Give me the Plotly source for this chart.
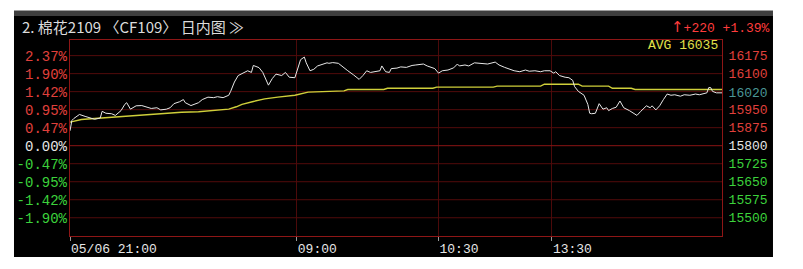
import plotly.graph_objects as go

# ---------------- data ----------------
PREV_SETTLE = 15800
LAST_PRICE = 16020
AVG_PRICE = 16035

PRICE_TIMES = [
    "21:00", "21:01", "21:02", "21:05", "21:08", "21:10", "21:13", "21:16", "21:17", "21:19",
    "21:22", "21:24", "21:27", "21:29", "21:30", "21:32", "21:35", "21:38", "21:40", "21:43",
    "21:46", "21:48", "21:51", "21:53", "21:55", "21:58", "22:00", "22:01", "22:04", "22:07",
    "22:08", "22:10", "22:13", "22:16", "22:18", "22:21", "22:24", "22:25", "22:27", "22:29",
    "22:32", "22:34", "22:36", "22:37", "22:40", "22:42", "22:45", "22:47", "22:49", "22:52",
    "22:54", "22:56", "22:59", "09:00", "09:01", "09:02", "09:04", "09:05", "09:07", "09:09",
    "09:11", "09:13", "09:16", "09:17", "09:19", "09:22", "09:24", "09:27", "09:30", "09:33",
    "09:35", "09:37", "09:39", "09:42", "09:44", "09:45", "09:47", "09:49", "09:50", "09:53",
    "09:55", "09:58", "10:01", "10:03", "10:07", "10:09", "10:13", "10:30", "10:32", "10:35",
    "10:38", "10:40", "10:41", "10:44", "10:46", "10:49", "10:53", "10:56", "11:00", "11:02",
    "11:05", "11:08", "11:10", "11:13", "11:16", "11:18", "11:21", "11:24", "11:26", "11:29",
    "13:31", "13:32", "13:34", "13:37", "13:39", "13:41", "13:42", "13:44", "13:45", "13:47",
    "13:49", "13:50", "13:51", "13:53", "13:55", "13:57", "13:59", "14:00", "14:02", "14:04",
    "14:06", "14:08", "14:11", "14:14", "14:15", "14:17", "14:20", "14:22", "14:23", "14:25",
    "14:27", "14:29", "14:31", "14:33", "14:35", "14:38", "14:40", "14:43", "14:46", "14:48",
    "14:51", "14:52", "14:53", "14:54", "14:55", "14:57", "15:00",
]
PRICE_VALUES = [
    15862, 15905, 15913, 15930, 15922, 15917, 15910, 15915, 15943, 15935,
    15933, 15926, 15946, 15972, 15979, 15952, 15966, 15967, 15962, 15955,
    15958, 15949, 15952, 15958, 15975, 15983, 15992, 15979, 15967, 15975,
    15979, 15992, 16002, 16000, 16004, 16000, 16010, 16026, 16065, 16092,
    16105, 16112, 16105, 16134, 16125, 16105, 16052, 16079, 16098, 16092,
    16105, 16085, 16083, 16105, 16132, 16158, 16169, 16145, 16112, 16118,
    16132, 16138, 16145, 16143, 16146, 16143, 16132, 16112, 16095, 16076,
    16092, 16112, 16105, 16108, 16112, 16132, 16108, 16105, 16121, 16123,
    16128, 16126, 16134, 16136, 16140, 16132, 16121, 16102, 16112, 16115,
    16124, 16140, 16132, 16136, 16132, 16145, 16143, 16140, 16148, 16136,
    16126, 16118, 16112, 16108, 16115, 16110, 16112, 16108, 16112, 16112,
    16102, 16108, 16092, 16085, 16083, 16072, 16046, 16026, 16020, 16010,
    15972, 15935, 15933, 15935, 15975, 15952, 15958, 15946, 15955, 15960,
    15986, 15958, 15946, 15933, 15926, 15943, 15966, 15958, 15966, 15949,
    15966, 15992, 16015, 16010, 16012, 16006, 16012, 16010, 16015, 16012,
    16018, 16020, 16042, 16042, 16026, 16020, 16020,
]

AVG_TIMES = [
    "21:00", "21:06", "21:13", "21:24", "21:32", "21:47", "21:59", "22:08", "22:24", "22:28",
    "22:31", "22:37", "22:43", "22:50", "22:59", "09:06", "09:18", "09:25", "09:27", "09:46",
    "09:48", "10:12", "10:14", "10:59", "11:01", "11:24", "11:26", "13:44", "13:46", "14:00",
    "14:02", "14:12", "14:14", "15:00",
]
AVG_VALUES = [
    15898, 15909, 15913, 15919, 15926, 15933, 15939, 15941, 15952, 15962,
    15972, 15984, 15995, 16002, 16010, 16023, 16028, 16028, 16034, 16034,
    16039, 16039, 16044, 16044, 16048, 16048, 16056, 16056, 16048, 16048,
    16039, 16039, 16034, 16034,
]

PCT_LEVELS = [16175, 16100, 16025, 15950, 15875, 15800, 15725, 15650, 15575, 15500]
PCT_LABELS = ["2.37%", "1.90%", "1.42%", "0.95%", "0.47%", "0.00%",
              "-0.47%", "-0.95%", "-1.42%", "-1.90%"]
PRICE_TICKS = [16175, 16100, 16020, 15950, 15875, 15800, 15725, 15650, 15575, 15500]

X_TICK_TIMES = ["21:00", "09:00", "10:30", "13:30"]
X_TICK_LABELS = ["05/06 21:00", "09:00", "10:30", "13:30"]

TITLE = "2. 棉花2109 〈CF109〉 日内图 ≫"

# ---------------- helpers ----------------
def session_index(t):
    h, m = map(int, t.split(":"))
    mins = h * 60 + m
    if mins >= 21 * 60:
        return mins - 21 * 60
    if 9 * 60 <= mins <= 10 * 60 + 15:
        return 120 + mins - 9 * 60
    if 10 * 60 + 30 <= mins <= 11 * 60 + 30:
        return 195 + mins - (10 * 60 + 30)
    return 255 + mins - (13 * 60 + 30)

RED = "#e0403c"
GREEN = "#3cd23c"
WHITE = "#e6e6e6"
TEAL = "#4a9696"
GRID = "#4c0a0a"
BORDER = "#8e1616"

def col_for(v, ref):
    if v > ref:
        return RED
    if v < ref:
        return GREEN
    return WHITE

Y_LO, Y_HI = 15424, 16240
X_END = session_index("15:00")
pct = lambda p: (p / PREV_SETTLE - 1) * 100

fig = go.Figure()

# horizontal grid (one trace for the ordinary levels, one for the previous settle)
gx, gy = [], []
for p in PCT_LEVELS:
    if p != PREV_SETTLE:
        gx += [0, X_END, None]
        gy += [p, p, None]
fig.add_trace(go.Scatter(x=gx, y=gy, mode="lines", line=dict(color="#520b0b", width=1),
                         hoverinfo="skip", yaxis="y"))
fig.add_trace(go.Scatter(x=[0, X_END], y=[PREV_SETTLE, PREV_SETTLE], mode="lines",
                         line=dict(color="#8a1414", width=1), hoverinfo="skip", yaxis="y"))

fig.add_trace(go.Scatter(
    x=[session_index(t) for t in AVG_TIMES], y=AVG_VALUES, mode="lines",
    line=dict(color="#cfcf3a", width=1.4), yaxis="y", hoverinfo="skip"))
fig.add_trace(go.Scatter(
    x=[session_index(t) for t in PRICE_TIMES], y=PRICE_VALUES, mode="lines",
    line=dict(color="#e8e8e8", width=1), yaxis="y", hoverinfo="skip"))
# invisible anchor trace for the percent axis
fig.add_trace(go.Scatter(x=[0], y=[0], mode="markers", marker=dict(opacity=0),
                         yaxis="y2", hoverinfo="skip"))

left_text = [f'<span style="color:{col_for(p, PREV_SETTLE)}">{lab}</span>'
             for p, lab in zip(PCT_LEVELS, PCT_LABELS)]
right_text = []
for p in PRICE_TICKS:
    c = TEAL if p == LAST_PRICE else col_for(p, PREV_SETTLE)
    right_text.append(f'<span style="color:{c}">{p}</span>')

fig.update_layout(
    width=803, height=269,
    margin=dict(l=70, r=81, t=40, b=24),
    paper_bgcolor="white", plot_bgcolor="black",
    showlegend=False,
    xaxis=dict(
        range=[0, X_END], tickvals=[session_index(t) for t in X_TICK_TIMES],
        ticktext=X_TICK_LABELS, ticklabelposition="outside right",
        tickfont=dict(family="Liberation Mono", size=13, color=WHITE),
        showgrid=True, gridcolor=GRID, gridwidth=1, zeroline=False,
        showline=True, linecolor=BORDER, linewidth=1, mirror=True,
        ticks="outside", ticklen=4, tickcolor="#9a9a9a",
    ),
    # price axis (right)
    yaxis=dict(
        range=[Y_LO, Y_HI], side="right",
        tickvals=PRICE_TICKS, ticktext=right_text,
        tickfont=dict(family="Liberation Mono", size=13, color=WHITE),
        showgrid=False, zeroline=False,
        showline=True, linecolor=BORDER, linewidth=1, mirror=True,
        ticks="", ticklabelstandoff=3,
    ),
    # percent axis (left)
    yaxis2=dict(
        range=[pct(Y_LO), pct(Y_HI)], overlaying="y", side="left",
        tickvals=[pct(p) for p in PCT_LEVELS], ticktext=left_text,
        tickfont=dict(family="Liberation Mono", size=14, color=WHITE),
        showgrid=False, zeroline=False, showline=False,
        ticks="", ticklabelstandoff=2,
    ),
)

# black panel & title strip (paper coordinates)
fig.add_shape(type="rect", xref="paper", yref="paper", x0=-0.0859, x1=1.0782,
              y0=-0.1073, y1=1.122, fillcolor="black", line_width=0, layer="below")
fig.add_shape(type="rect", xref="paper", yref="paper", x0=-0.0859, x1=1.0782,
              y0=1.122, y1=1.151, fillcolor="#3e3e3e", line_width=0, layer="below")

fig.add_annotation(xref="paper", yref="paper", x=-0.0767, y=1.068, xanchor="left",
                   yanchor="middle", text=TITLE, showarrow=False,
                   font=dict(family="Noto Sans CJK SC", size=15, color="#dcdcdc"))
change_txt = (f'<span style="font-family:DejaVu Sans;font-size:15px">↑</span>'
              f'+{LAST_PRICE - PREV_SETTLE} +{(LAST_PRICE / PREV_SETTLE - 1) * 100:.2f}%')
fig.add_annotation(xref="paper", yref="paper", x=1.0767, y=1.068, xanchor="right",
                   yanchor="middle", showarrow=False, text=change_txt,
                   font=dict(family="Liberation Mono", size=13, color="#ff3c3c"))
fig.add_annotation(xref="paper", yref="paper", x=0.9969, y=0.9707, xanchor="right",
                   yanchor="middle", showarrow=False, text=f"AVG {AVG_PRICE}",
                   font=dict(family="Liberation Mono", size=13, color="#e2e24a"))

fig.write_html("out.html")
